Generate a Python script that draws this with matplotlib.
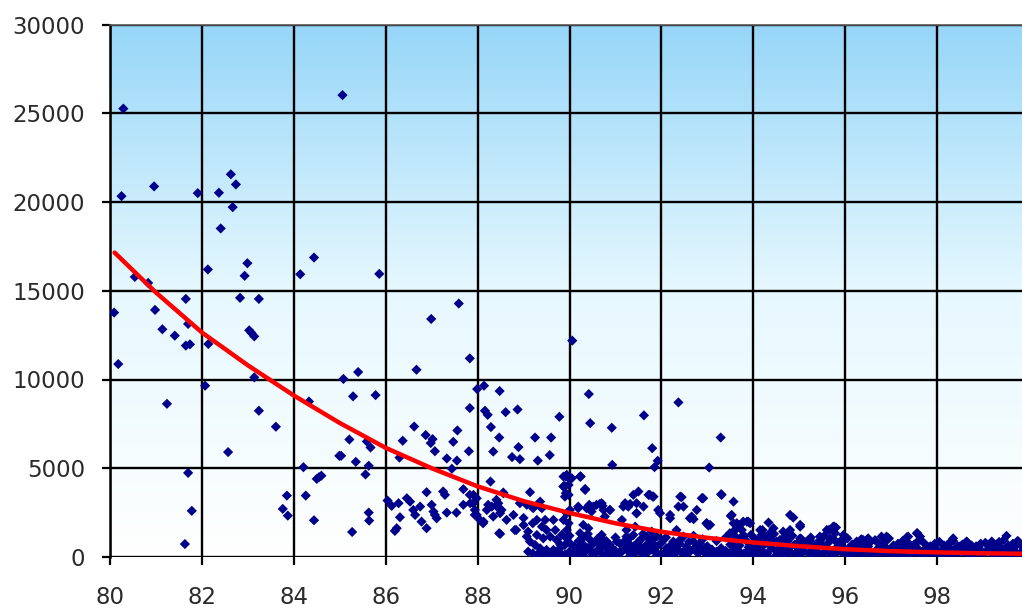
import numpy as np
import matplotlib
matplotlib.use("Agg")
import matplotlib.pyplot as plt
from matplotlib.colors import LinearSegmentedColormap

# scattered upper points (score, count)
x_upper = [80.29, 85.06, 80.25, 80.96, 81.91, 82.37, 82.63, 82.74, 82.67, 82.41,
           82.99, 82.93, 82.13, 84.14, 84.44, 85.86, 80.54, 80.83, 80.09, 80.98,
           81.65, 82.83, 83.24, 81.14, 81.41, 81.70, 81.65, 81.74, 82.14, 83.03,
           83.08, 83.14, 80.18, 83.14, 85.08, 85.40, 82.07, 81.24, 83.24, 84.33,
           85.29, 85.78, 83.61, 82.57, 81.70, 81.78, 81.63, 84.21, 84.50, 84.55,
           84.60, 83.85, 84.26, 83.76, 83.87, 84.44, 84.99, 87.59, 86.99, 90.06,
           87.83, 86.67, 87.99, 88.14, 88.48, 90.42, 87.83, 88.16, 88.22, 88.61,
           88.87, 89.78, 90.45, 90.92, 86.62, 87.56, 86.87, 87.02, 86.98, 86.37,
           87.47, 88.29, 88.47, 89.25, 89.60, 88.89, 85.21, 85.59, 85.67, 87.07,
           87.81, 88.34, 88.75, 88.92, 89.31, 89.57, 87.33, 87.55, 87.44, 86.30,
           85.03, 85.35, 85.63, 85.56, 85.27, 85.63, 85.64, 91.62, 92.37, 91.80,
           91.92, 91.85, 90.93, 93.29, 93.04]
y_upper = [25260, 26020, 20330, 20880, 20500, 20520, 21560, 20990, 19710, 18510,
           16550, 15840, 16200, 15930, 16870, 15950, 15780, 15440, 13770, 13920,
           14540, 14600, 14540, 12830, 12470, 13130, 11910, 11980, 12000, 12770,
           12620, 12430, 10870, 10120, 10030, 10420, 9650, 8630, 8240, 8760,
           9050, 9120, 7340, 5910, 4740, 2600, 730, 5060, 4400, 4500,
           4580, 3460, 3460, 2710, 2330, 2070, 5700, 14280, 13410, 12190,
           11190, 10550, 9460, 9650, 9350, 9180, 8390, 8240, 8010, 8160,
           8310, 7900, 7540, 7280, 7350, 7130, 6870, 6640, 6420, 6550,
           6490, 7320, 6730, 6730, 6730, 6190, 6620, 6510, 6170, 5960,
           5960, 5940, 5630, 5510, 5430, 5740, 5550, 5430, 4970, 5600,
           5700, 5360, 5140, 4650, 1410, 2500, 2050, 7980, 8710, 6130,
           5420, 5060, 5190, 6730, 5040]

# middle cloud, 86 - 94
x_mid = [86.04, 86.13, 86.28, 86.31, 86.24, 86.20, 86.46, 86.53, 86.60, 86.64,
         86.75, 86.78, 86.89, 86.89, 87.00, 87.04, 87.07, 87.11, 87.25, 87.29,
         87.33, 87.54, 87.69, 87.69, 87.83, 87.91, 87.94, 87.98, 88.05, 88.12,
         88.20, 88.23, 88.31, 88.34, 88.41, 88.45, 88.49, 88.49, 88.52, 88.63,
         88.78, 88.84, 88.92, 89.07, 89.21, 89.36, 88.28, 89.14, 89.92, 90.24,
         90.34, 89.89, 89.92, 89.36, 88.56, 87.91, 87.84, 87.94, 87.98, 88.13,
         88.42, 88.56, 89.18, 89.40, 88.47, 88.81, 89.87, 89.94, 89.87, 89.98,
         89.98, 89.90, 90.23, 90.34, 90.01, 89.94, 90.19, 90.37, 90.48, 90.59,
         90.70, 90.74, 90.77, 90.88, 90.30, 90.41, 90.23, 89.95, 90.05, 90.24,
         89.87, 90.34, 90.19, 90.43, 90.52, 90.66, 90.72, 90.88, 91.17, 91.24,
         91.32, 91.50, 91.72, 91.81, 91.46, 91.93, 91.97, 92.19, 92.19, 92.37,
         92.44, 92.66, 92.70, 92.89, 93.30, 93.57, 93.51, 92.98, 93.02, 93.64,
         93.78, 93.89, 93.64, 93.75, 94.20, 94.33, 94.44, 94.80, 94.87, 95.02,
         94.80, 94.65, 95.65, 95.80, 95.23, 95.45, 95.96, 91.28, 91.21, 91.39,
         91.46, 91.46, 91.61, 91.75, 91.83, 92.41, 92.48, 92.62, 92.77, 92.88,
         92.91, 93.31, 93.53, 92.99, 93.06, 93.57, 93.71, 93.86, 93.93, 93.60,
         93.49, 94.15, 94.36, 94.18, 94.73, 95.02, 95.60, 95.74, 95.78, 95.67,
         96.32, 96.47, 96.79, 96.94, 97.34, 97.57, 97.63, 98.35, 98.64, 99.51,
         99.19, 99.77, 96.90, 97.37, 97.56, 95.76]
y_mid = [3180, 2880, 3030, 2240, 1620, 1470, 3310, 3120, 2650, 2370,
         2840, 1990, 3650, 1620, 2940, 2560, 2370, 2180, 3690, 3500,
         2500, 2500, 3820, 2940, 3500, 3030, 2370, 3310, 2090, 1900,
         2650, 2940, 2840, 2280, 3220, 3030, 2470, 1300, 2650, 2090,
         2370, 1520, 3030, 2940, 2750, 2840, 4250, 3650, 4530, 4530,
         3820, 4000, 3600, 3120, 3630, 3500, 3030, 2650, 2370, 1990,
         2840, 3590, 2840, 2750, 1340, 1520, 4530, 4630, 3970, 4060,
         3500, 3400, 4530, 3780, 2650, 2460, 2840, 2750, 2560, 2940,
         3030, 2650, 2280, 2650, 1810, 1620, 1340, 4540, 4440, 4540,
         3970, 3820, 2750, 2940, 2840, 2990, 2880, 2650, 2840, 2940,
         2990, 3690, 3500, 3410, 2470, 2650, 2470, 2370, 2180, 2840,
         3370, 2280, 2130, 3310, 3540, 3120, 2310, 1900, 1770, 1900,
         1990, 1990, 1620, 1520, 1520, 1940, 1620, 2370, 2220, 1710,
         1520, 1430, 1530, 1660, 960, 1150, 1240, 2840, 3030, 3500,
         3030, 2460, 2840, 3500, 3400, 3400, 2840, 2180, 2650, 3310,
         3310, 3500, 2370, 1900, 1810, 1900, 1810, 1990, 1900, 1520,
         1340, 1520, 1340, 1240, 1150, 1810, 1520, 1710, 1340, 1050,
         870, 960, 1150, 1050, 1110, 1340, 1150, 1050, 870, 1190,
         870, 870, 1150, 1150, 1335, 1710]

# dense band near the floor, 89 - 100
x_low = [89.10, 89.07, 89.14, 89.25, 89.36, 89.50, 89.65, 89.79, 89.90, 89.94,
         89.94, 89.29, 89.43, 89.58, 89.72, 89.83, 89.69, 89.50, 89.40, 89.29,
         89.47, 89.65, 89.87, 89.98, 89.00, 89.00, 89.10, 89.20, 89.20, 89.30,
         89.40, 89.40, 89.50, 89.60, 89.60, 89.70, 89.80, 89.80, 89.90,
         90.00, 90.00, 90.00, 90.10, 90.10, 90.20, 90.20, 90.30, 90.30, 90.30,
         90.40, 90.40, 90.50, 90.50, 90.60, 90.60, 90.70, 90.70, 90.70, 90.80,
         90.80, 90.90, 90.90, 91.00, 91.00, 91.00, 91.10, 91.10, 91.20, 91.20,
         91.30, 91.30, 91.40, 91.40, 91.50, 91.50, 91.60, 91.60, 91.60, 91.70,
         91.70, 91.80, 91.80, 91.90, 91.90, 92.00, 92.00, 92.10, 92.10, 92.20,
         92.20, 92.30, 92.30, 92.40, 92.40, 92.50, 92.50, 92.60, 92.60, 92.70,
         92.70, 92.80, 92.80, 92.90, 92.90,
         90.45, 90.59, 90.74, 90.88, 91.03, 90.19, 90.34, 90.48, 90.63, 90.81,
         90.95, 91.10, 91.24, 91.38, 90.08, 90.30, 90.52, 90.74, 91.03, 91.32,
         91.61, 91.90, 91.14, 91.24, 91.39, 91.43, 91.54, 91.68, 91.79, 91.90,
         91.24, 91.32, 91.50, 91.68, 91.83, 92.04, 92.11, 92.26, 92.33, 92.48,
         92.55, 92.70, 92.84, 92.91, 92.99, 92.41, 92.26, 94.51, 94.58, 95.16,
         95.31, 95.02, 95.89, 95.96, 96.25, 96.39, 96.50,
         93.0, 93.0, 93.0, 93.1, 93.1, 93.2, 93.2, 93.2, 93.3, 93.3,
         93.4, 93.4, 93.4, 93.5, 93.5, 93.6, 93.6, 93.6, 93.7, 93.7,
         93.8, 93.8, 93.8, 93.9, 93.9, 94.0, 94.0, 94.0, 94.1, 94.1,
         94.1, 94.2, 94.2, 94.3, 94.3, 94.3, 94.4, 94.4, 94.5, 94.5,
         94.6, 94.6, 94.7, 94.7, 94.7, 94.8, 94.8, 94.9, 94.9, 95.0,
         95.0, 95.1, 95.1, 95.2, 95.2, 95.3, 95.3, 95.4, 95.4, 95.5,
         95.5, 95.6, 95.6, 95.7, 95.7, 95.8, 95.8, 95.9, 95.9, 96.0,
         96.0, 96.1, 96.1, 96.1, 96.2, 96.2, 96.3, 96.3, 96.4, 96.4,
         96.5, 96.5, 96.6, 96.6, 96.7, 96.7, 96.8, 96.8, 96.9, 96.9,
         97.0, 97.0, 97.1, 97.1, 97.2, 97.2, 97.3, 97.3, 97.4, 97.4,
         97.5, 97.5, 97.6, 97.6, 97.7, 97.7, 97.8, 97.8, 97.9, 97.9,
         98.0, 98.0, 98.1, 98.1, 98.2, 98.2, 98.3, 98.3, 98.4, 98.4,
         98.5, 98.5, 98.6, 98.6, 98.7, 98.7, 98.8, 98.8, 98.9, 98.9,
         99.0, 99.0, 99.1, 99.1, 99.2, 99.2, 99.3, 99.3, 99.4, 99.4,
         99.5, 99.5, 99.6, 99.6, 99.7, 99.7, 99.8, 99.8, 99.9, 99.9]
y_low = [1430, 1150, 870, 680, 490, 400, 400, 490, 680, 1050,
         1520, 1240, 1050, 1150, 960, 1240, 1520, 1520, 1710, 2090,
         2090, 2090, 2090, 1900, 1800, 2200, 300, 200, 1900, 150,
         100, 250, 150, 100, 250, 150, 200, 700, 150,
         300, 800, 1200, 150, 600, 900, 250, 1100, 700, 200,
         500, 1300, 700, 150, 1000, 350, 200, 650, 1250, 900,
         120, 550, 250, 1100, 350, 80, 750, 200, 450, 900,
         250, 1050, 600, 150, 350, 850, 500, 1300, 200, 750,
         250, 400, 950, 250, 600, 800, 150, 300, 1100, 650,
         100, 200, 500, 750, 950, 350, 150, 850, 250, 450,
         1200, 200, 650, 350, 1000,
         960, 870, 960, 680, 870, 490, 400, 300, 400, 490,
         400, 300, 490, 400, 110, 60, 110, 60, 110, 60,
         110, 60, 2090, 1520, 1240, 1710, 960, 1150, 1430, 1150,
         1150, 680, 680, 580, 680, 960, 490, 870, 1520, 1150,
         580, 870, 770, 400, 580, 300, 400, 870, 960, 770,
         680, 1050, 870, 960, 870, 960, 1050,
         250, 600, 80, 420, 150, 900, 300, 60, 500, 180,
         1100, 350, 90, 700, 230, 450, 120, 950, 300, 650,
         1200, 200, 80, 550, 380, 250, 700, 100, 450, 900,
         150, 320, 600, 200, 800, 60, 500, 1000, 350, 120,
         650, 250, 420, 80, 850, 300, 560, 180, 700, 450,
         90, 320, 600, 200, 850, 400, 100, 550, 260, 150,
         700, 350, 450, 250, 80, 500, 200, 320, 650, 150,
         420, 280, 550, 60, 400, 180, 250, 700, 120, 450,
         350, 600, 200, 80, 450, 300, 150, 650, 300, 500,
         100, 400, 250, 550, 380, 150, 200, 600, 450, 80,
         300, 700, 150, 420, 350, 250, 100, 500, 280, 620,
         180, 400, 350, 80, 250, 550, 450, 150, 120, 350,
         300, 600, 200, 480, 400, 80, 150, 300, 350, 550,
         250, 120, 400, 650, 180, 300, 350, 80, 220, 500,
         420, 150, 120, 350, 300, 600, 200, 80, 350, 500]

# upper edge of the floor band, 93.5 - 100
x_edge = [93.55, 93.65, 93.75, 93.85, 93.95, 94.05, 94.15, 94.25, 94.35, 94.45,
          94.55, 94.65, 94.75, 94.85, 94.95, 95.05, 95.15, 95.25, 95.35, 95.45,
          95.55, 95.65, 95.75, 95.85, 95.95, 96.05, 96.15, 96.25, 96.35, 96.45,
          96.55, 96.65, 96.75, 96.85, 96.95, 97.05, 97.15, 97.25, 97.35, 97.45,
          97.55, 97.65, 97.75, 97.85, 97.95, 98.05, 98.15, 98.25, 98.35, 98.45,
          98.55, 98.65, 98.75, 98.85, 98.95, 99.05, 99.15, 99.25, 99.35, 99.45,
          99.55, 99.65, 99.75, 99.85, 99.95]
y_edge = [1300, 1050, 1150, 900, 1250, 1000, 850, 1150, 950, 1300,
          800, 1050, 900, 1200, 750, 1000, 850, 1100, 700, 950,
          1200, 850, 1000, 750, 900, 1050, 700, 800, 1000, 650,
          850, 950, 700, 800, 1050, 650, 750, 900, 850, 600,
          800, 950, 700, 600, 750, 850, 650, 750, 900, 600,
          700, 850, 650, 600, 750, 800, 600, 700, 850, 950,
          650, 750, 900, 600, 700]

# trend curve read at whole scores
trend_x = [80.1, 81, 82, 83, 84, 85, 86, 87, 88, 89, 90,
           91, 92, 93, 94, 95, 96, 97, 98, 99, 99.9]
trend_y = [17150, 14900, 12650, 10800, 9100, 7550, 6150, 5000, 3980, 3150, 2480,
           1900, 1420, 1080, 820, 610, 440, 330, 260, 210, 180]

fig = plt.figure(figsize=(10.22, 6.12), dpi=100)
ax = fig.add_axes([110 / 1022, 55 / 612, 919 / 1022, 532.5 / 612])
ax.set_xlim(80, 100)
ax.set_ylim(0, 30000)

# blue to white background
bg = LinearSegmentedColormap.from_list("bg", ["#ffffff", "#e6f8fe", "#96d6f8"])
grad = np.linspace(0, 1, 256).reshape(-1, 1)
ax.imshow(grad, cmap=bg, origin="lower", aspect="auto",
          extent=[80, 100, 0, 30000], zorder=0)

ax.set_xticks(np.arange(80, 100, 2))
ax.set_yticks(np.arange(0, 30001, 5000))
ax.grid(True, color="black", linewidth=1.7, zorder=1)
ax.set_axisbelow(True)

for side in ["right", "bottom"]:
    ax.spines[side].set_visible(False)
ax.spines["top"].set_color("#555555")
ax.spines["top"].set_linewidth(1.2)
ax.spines["left"].set_linewidth(1.8)
ax.axhline(0, color="black", linewidth=1.8, zorder=2)

ax.tick_params(axis="both", length=6, width=1.6, color="black",
               labelsize=16.5, labelcolor="#2a2a2a")
ax.tick_params(axis="y", pad=12)
ax.tick_params(axis="x", pad=15)

all_x = x_upper + x_mid + x_low + x_edge
all_y = y_upper + y_mid + y_low + y_edge
ax.scatter(all_x, all_y, s=27, marker="D", color="#00008b",
           edgecolors="none", zorder=3)

ax.plot(trend_x, trend_y, color="#ff0000", linewidth=3.2, zorder=4,
        solid_capstyle="round")

fig.savefig("out.png", dpi=100)
